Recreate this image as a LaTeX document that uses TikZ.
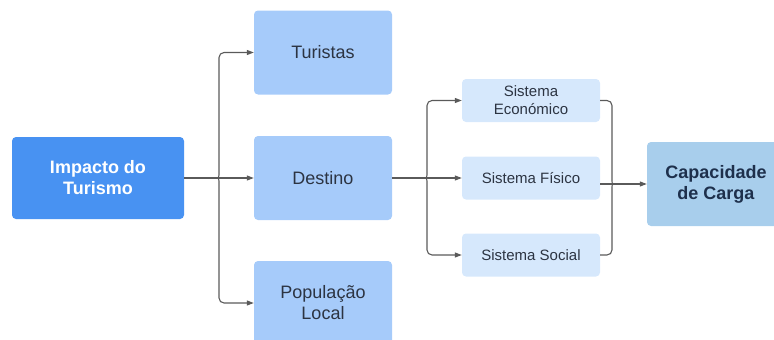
\documentclass[tikz,border=0pt]{standalone}
\usepackage{fontspec}
\setmainfont{Liberation Sans}
\usepackage{xcolor}
\definecolor{Col1}{RGB}{72,146,242}
\definecolor{Col2}{RGB}{166,203,250}
\definecolor{Col3}{RGB}{214,232,252}
\definecolor{Col4}{RGB}{168,206,236}
\definecolor{Col5}{RGB}{44,52,66}
\definecolor{Col6}{RGB}{90,90,90}
\definecolor{Col7}{RGB}{30,48,76}
\usepackage{tikz}
\usetikzlibrary{arrows.meta}
\tikzstyle{Box}=[rectangle,rounded corners=4pt,align=center,inner sep=2pt,
text=Col5,font=\fontsize{18}{21}\selectfont]
\tikzstyle{NodeTop}=[Box,fill=Col1,text=white,
font=\fontsize{18}{21}\selectfont\bfseries,minimum width=172pt,minimum height=82pt]
\tikzstyle{NodeMid}=[Box,fill=Col2,minimum width=138pt,minimum height=84pt]
\tikzstyle{NodeSys}=[Box,fill=Col3,font=\fontsize{15}{18}\selectfont,
minimum width=138pt,minimum height=43pt]
\tikzstyle{NodeEnd}=[Box,fill=Col4,text=Col7,
font=\fontsize{18}{21}\selectfont\bfseries,minimum width=138pt,minimum height=84pt]
\tikzstyle{Edge}=[draw=Col6,line width=1.1pt]
\tikzstyle{Arrow}=[Edge,-{Triangle[length=7pt,width=5pt]}]
\begin{document}
\begin{tikzpicture}[x=1pt,y=-1pt]
        \useasboundingbox(0,0)rectangle(774,340);
        \clip(0,0)rectangle(774,340);
        \node[NodeTop](Impacto)at(98,178){Impacto do\\Turismo};
        \node[NodeMid](Turistas)at(323,52.5){Turistas};
        \node[NodeMid](Destino)at(323,178){Destino};
        \node[NodeMid](Populacao)at(323,303){População\\Local};
        \node[NodeSys](Economico)at(531,100.5){Sistema\\Económico};
        \node[NodeSys](Fisico)at(531,178){Sistema Físico};
        \node[NodeSys](Social)at(531,255){Sistema Social};
        \node[NodeEnd](Carga)at(716,184){Capacidade\\de Carga};
        \coordinate(b1)at(214,178);
        \coordinate(b2)at(422,178);
        \coordinate(b3)at(619,184);
        \draw[Edge](Impacto)--(b1);
        \draw[Arrow](b1)--(Destino);
        \draw[Arrow,rounded corners=5pt](b1)..controls(219,178)..(219,170)
            |-(Turistas);
        \draw[Arrow,rounded corners=5pt](b1)..controls(219,178)..(219,186)
            |-(Populacao);
        \draw[Edge](Destino)--(b2);
        \draw[Arrow](b2)--(Fisico);
        \draw[Arrow,rounded corners=5pt](b2)..controls(427,178)..(427,170)
            |-(Economico);
        \draw[Arrow,rounded corners=5pt](b2)..controls(427,178)..(427,186)
            |-(Social);
        \draw[Edge,rounded corners=5pt](Economico)-|(612,176)
            ..controls(612,184)..(b3);
        \draw[Edge,rounded corners=5pt](Social)-|(612,192)
            ..controls(612,184)..(b3);
        \draw[Edge](Fisico.east|-b3)--(b3);
        \draw[Arrow](b3)--(Carga);
    \end{tikzpicture}
\end{document}
